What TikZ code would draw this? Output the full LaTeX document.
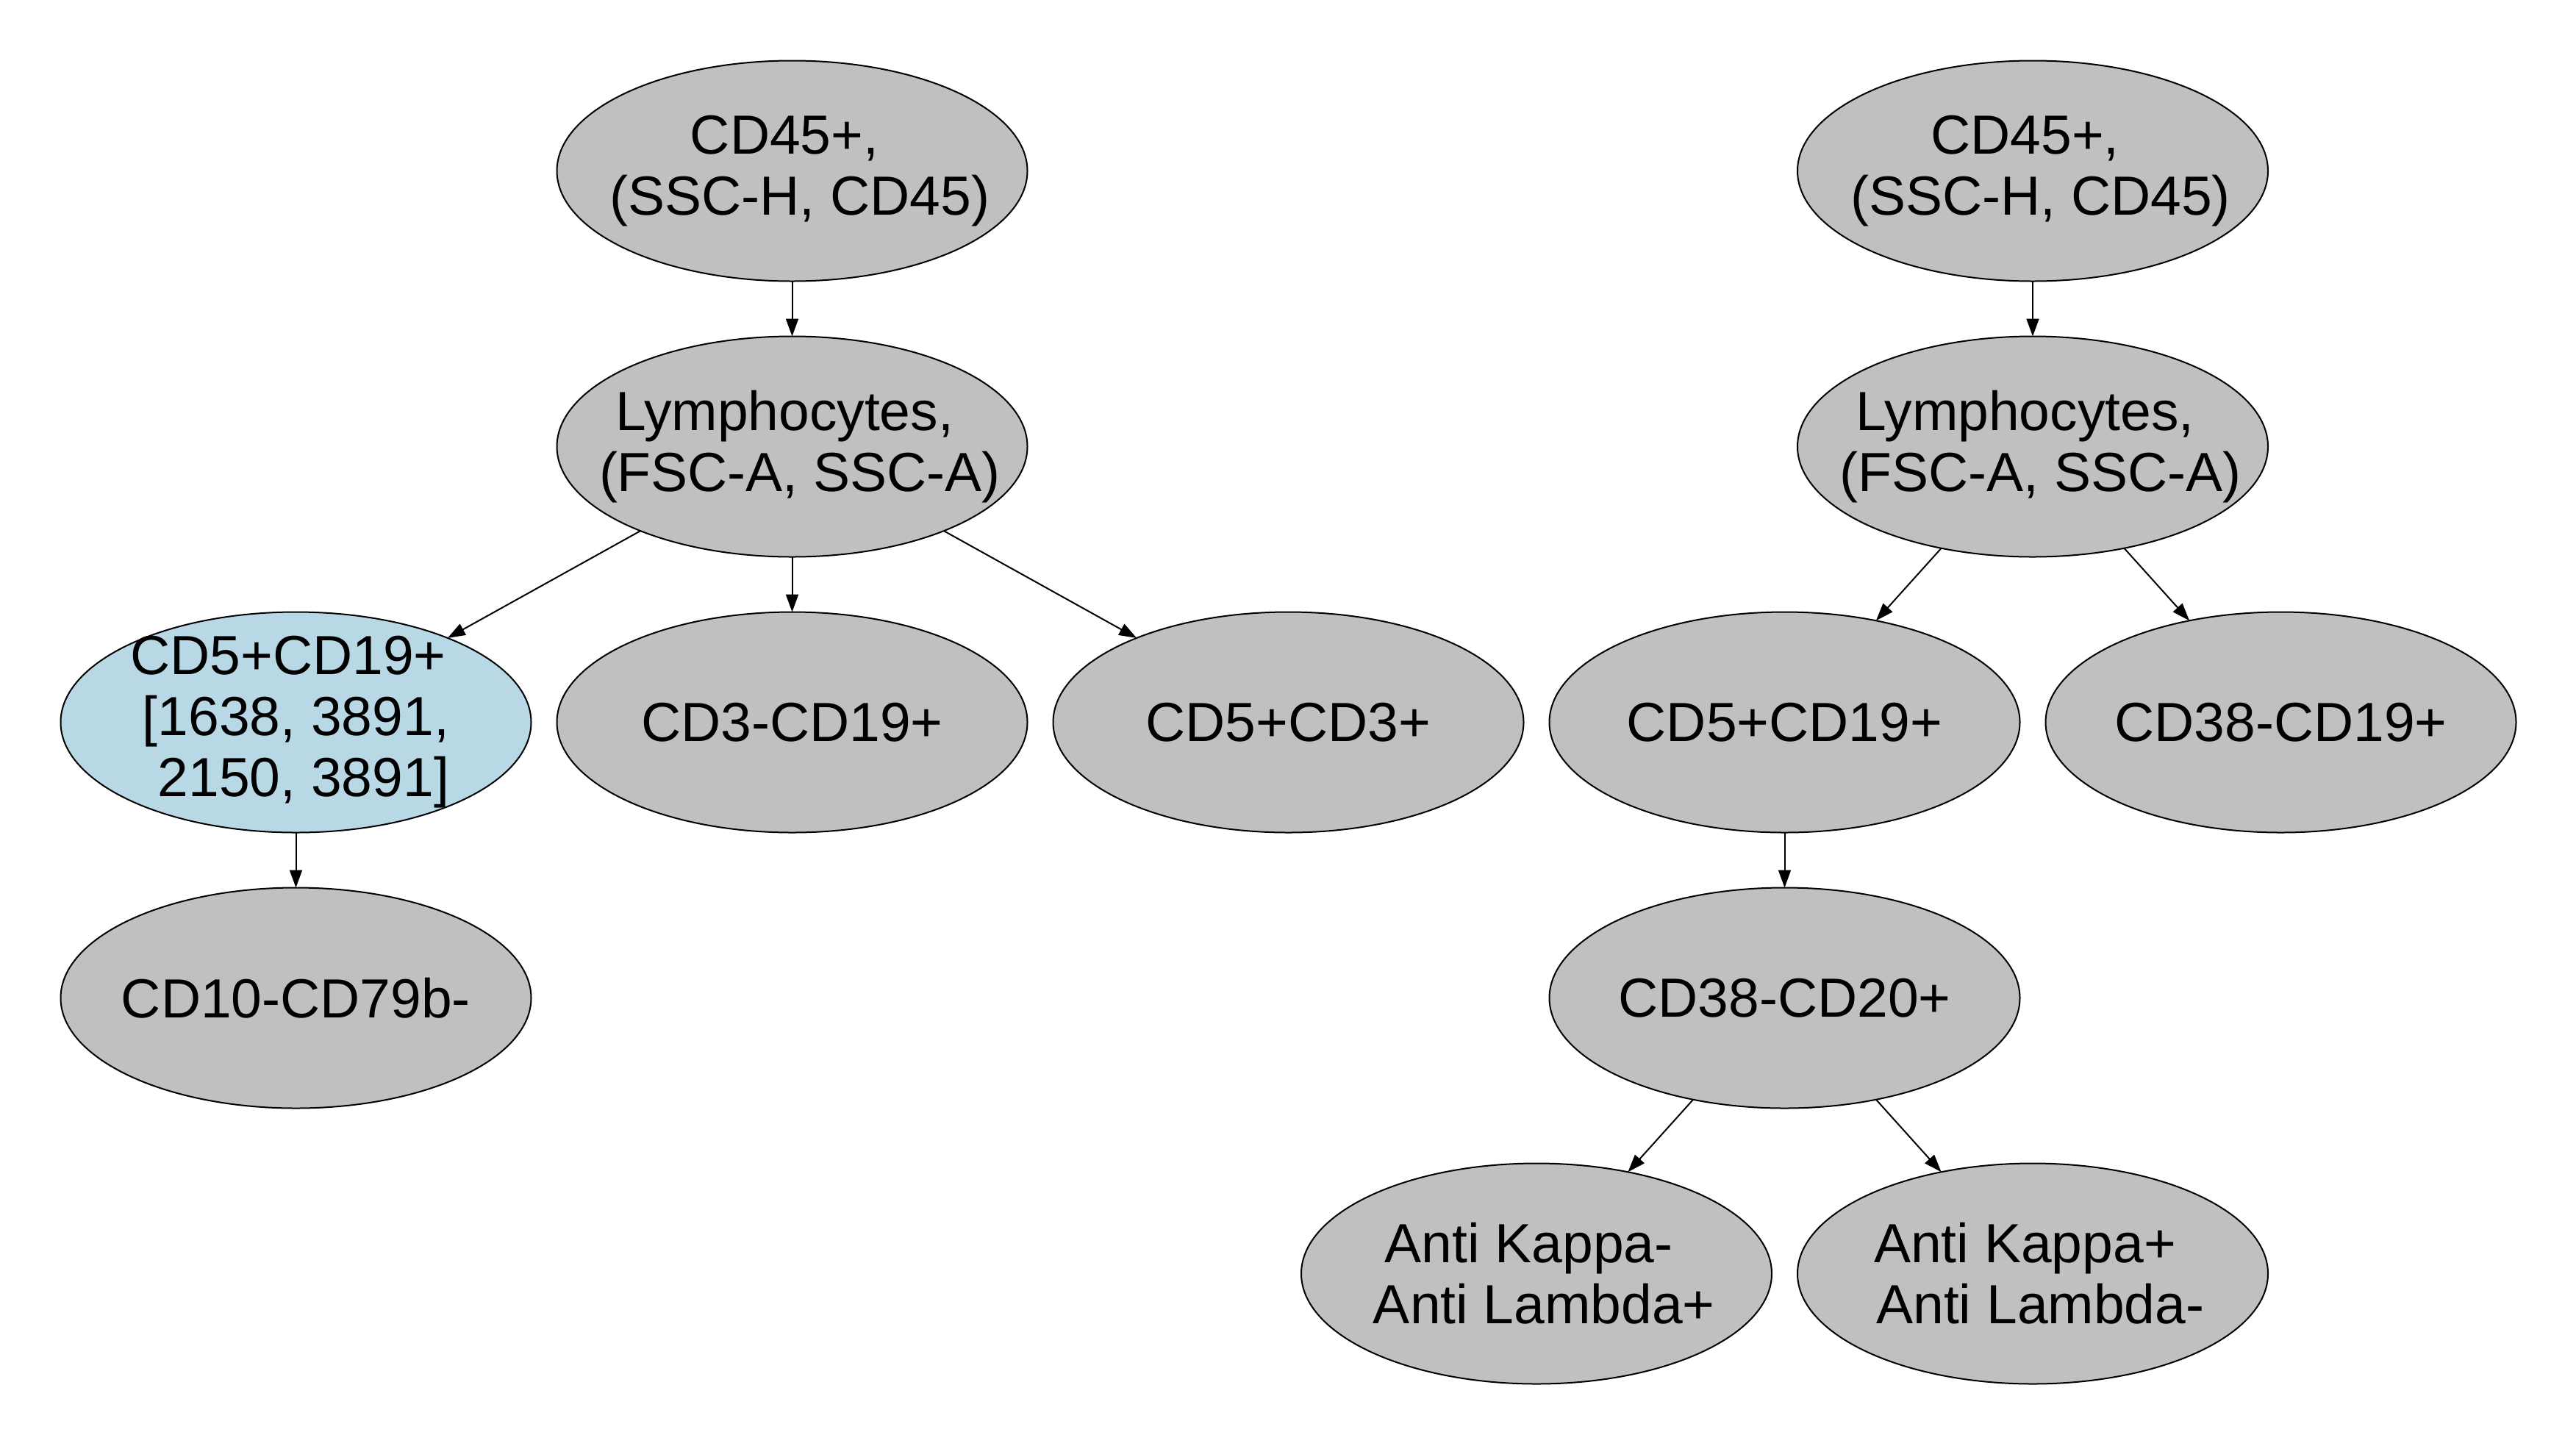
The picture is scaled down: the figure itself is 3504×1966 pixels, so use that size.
\documentclass[tikz,border=0pt]{standalone}
\usepackage{fontspec}
\setmainfont{Liberation Sans}
\usetikzlibrary{shapes.geometric,arrows.meta}
\definecolor{gatefill}{HTML}{C0C0C0}
\definecolor{selfill}{HTML}{B9D8E5}
\newcommand\gatefont{\fontsize{75pt}{83pt}\selectfont}
\newcommand\gsp{\hspace*{.278em}}
\tikzset{
  gate/.style={ellipse, draw=black, line width=2pt, fill=gatefill,
    minimum width=640pt, minimum height=300pt,
    inner xsep=-150pt, inner ysep=-50pt, outer sep=0pt,
    align=center, font=\gatefont},
  selgate/.style={gate, fill=selfill},
  link/.style={draw=black, line width=2pt, -{Triangle[length=24pt,width=17pt]}}
}
\begin{document}
\begin{tikzpicture}[x=1pt,y=-1pt]
\useasboundingbox (0,0) rectangle (3504,1966);
% left tree
\node[gate] (a1) at (1077.5,232.5) {CD45+,\gsp\\\gsp(SSC-H, CD45)};
\node[gate] (a2) at (1077.5,607.5) {Lymphocytes,\gsp\\\gsp(FSC-A, SSC-A)};
\node[selgate] (a3) at (402.5,982.5) {CD5+CD19+\gsp\\{}[1638, 3891,\\\gsp2150, 3891]};
\node[gate] (a4) at (1077.5,982.5) {CD3-CD19+};
\node[gate] (a5) at (1752.5,982.5) {CD5+CD3+};
\node[gate] (a6) at (402.5,1357.5) {CD10-CD79b-};
% right tree
\node[gate] (b1) at (2765,232.5) {CD45+,\gsp\\\gsp(SSC-H, CD45)};
\node[gate] (b2) at (2765,607.5) {Lymphocytes,\gsp\\\gsp(FSC-A, SSC-A)};
\node[gate] (b3) at (2427.5,982.5) {CD5+CD19+};
\node[gate] (b4) at (3102.5,982.5) {CD38-CD19+};
\node[gate] (b5) at (2427.5,1357.5) {CD38-CD20+};
\node[gate] (b6) at (2090,1732.5) {Anti Kappa-\gsp\\\gsp Anti Lambda+};
\node[gate] (b7) at (2765,1732.5) {Anti Kappa+\gsp\\\gsp Anti Lambda-};
% edges
\draw[link] (a1) -- (a2);
\draw[link] (a2) -- (a3);
\draw[link] (a2) -- (a4);
\draw[link] (a2) -- (a5);
\draw[link] (a3) -- (a6);
\draw[link] (b1) -- (b2);
\draw[link] (b2) -- (b3);
\draw[link] (b2) -- (b4);
\draw[link] (b3) -- (b5);
\draw[link] (b5) -- (b6);
\draw[link] (b5) -- (b7);
\end{tikzpicture}
\end{document}
